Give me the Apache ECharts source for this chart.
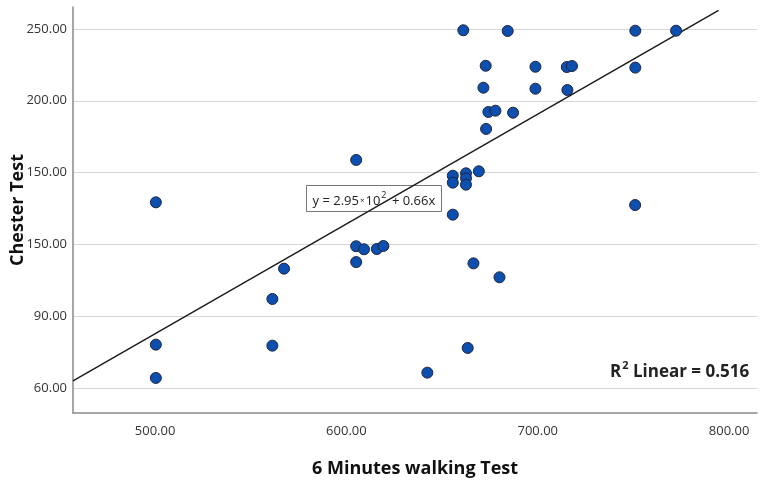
<!DOCTYPE html>
<html>
<head>
<meta charset="utf-8">
<script src="https://cdn.jsdelivr.net/npm/echarts@6/dist/echarts.min.js"></script>
<style>
  html, body { margin: 0; padding: 0; background: #fff; }
  #chart { width: 764px; height: 487px; }
</style>
</head>
<body>
<div id="chart"></div>
<script>
// 6 Minutes walking Test (x) vs Chester Test (y, plotted on the axis' own linear scale)
const walkX = [500.4, 500.4, 500.4, 561.3, 561.3, 567.4, 605.1, 605.1, 605.1, 609.2,
  615.9, 619.3, 642.3, 655.6, 655.6, 655.6, 662.5, 662.5, 662.5, 669.2,
  666.4, 680.0, 663.4, 661.1, 684.3, 672.8, 671.6, 674.2, 677.9, 687.1,
  673.0, 698.8, 698.8, 715.2, 717.9, 715.5, 751.0, 751.0, 772.3, 750.9];
const chesterY = [129.3, 30.2, 7.0, 62.0, 29.5, 83.1, 158.8, 98.7, 87.7, 96.6,
  96.8, 98.9, 10.7, 147.8, 143.0, 120.7, 149.5, 146.0, 141.6, 150.9,
  86.8, 77.1, 27.9, 249.1, 248.6, 224.4, 209.1, 192.2, 193.1, 191.7,
  180.4, 223.7, 208.4, 223.5, 224.2, 207.5, 248.8, 223.1, 248.8, 127.4];

// fit line end points
const fitX = [457.1, 794.5];
const fitY = [4.9, 263.0];

const xTicks = [500, 600, 700, 800];
const yTicks = [0, 50, 100, 150, 200, 250];
const yTickLabels = ["60.00", "90.00", "150.00", "150.00", "200.00", "250.00"];

const points = walkX.map((x, i) => [x, chesterY[i]]);
const fitLine = fitX.map((x, i) => [x, fitY[i]]);

const chart = echarts.init(document.getElementById("chart"));
const font = "'Open Sans', 'Noto Sans', sans-serif";

chart.setOption({
  animation: false,
  textStyle: { fontFamily: font },
  grid: { left: 73, right: 7, top: 7, bottom: 74, containLabel: false, outerBoundsMode: "none" },
  xAxis: {
    type: "value",
    min: 457.1,
    max: 814.6,
    name: "6 Minutes walking Test",
    nameLocation: "middle",
    nameGap: 47,
    nameMoveOverlap: false,
    nameTextStyle: { fontSize: 18, fontWeight: "bold", color: "#111", fontFamily: font },
    axisLine: { show: true, onZero: false, lineStyle: { color: "#8a8a8a", width: 1.5 } },
    axisTick: { show: false, customValues: xTicks },
    axisLabel: {
      customValues: xTicks,
      color: "#333",
      fontSize: 13,
      margin: 12,
      formatter: (v) => v.toFixed(2),
    },
    splitLine: { show: false },
  },
  yAxis: {
    type: "value",
    min: -17.4,
    max: 265.3,
    name: "Chester Test",
    nameLocation: "middle",
    nameGap: 46,
    nameMoveOverlap: false,
    nameTextStyle: { fontSize: 18, fontWeight: "bold", color: "#111", fontFamily: font },
    axisLine: { show: true, onZero: false, lineStyle: { color: "#8a8a8a", width: 1.5 } },
    axisTick: { show: false, customValues: yTicks },
    axisLabel: {
      customValues: yTicks,
      color: "#333",
      fontSize: 13,
      margin: 6,
      formatter: (v) => yTickLabels[yTicks.indexOf(v)] || "",
    },
    splitLine: { show: true, lineStyle: { color: "#d6d6d6", width: 1 } },
  },
  series: [
    {
      type: "line",
      data: fitLine,
      symbol: "none",
      lineStyle: { color: "#1a1a1a", width: 1.4 },
      z: 2,
    },
    {
      type: "scatter",
      data: points,
      symbolSize: 11,
      itemStyle: { color: "#0c4fae", borderColor: "#1c2340", borderWidth: 1, opacity: 1 },
      z: 3,
    },
  ],
  graphic: [
    {
      type: "group",
      left: 306,
      top: 185,
      z: 10,
      children: [
        {
          type: "rect",
          shape: { x: 0, y: 0, width: 135, height: 26 },
          style: { fill: "#fff", stroke: "#777", lineWidth: 1 },
        },
        {
          type: "text",
          x: 6,
          y: 4,
          style: {
            text: "{n|y = 2.95}{s|×}{n|10}{p|2}{n| + 0.66x}",
            rich: {
              n: { fontSize: 13, fill: "#222", fontFamily: font, verticalAlign: "bottom", lineHeight: 18 },
              s: { fontSize: 8, fill: "#222", fontFamily: font, padding: [0, 1, 3, 1], verticalAlign: "bottom", lineHeight: 18 },
              p: { fontSize: 9, fill: "#222", fontFamily: font, padding: [0, 2, 8, 1], verticalAlign: "bottom", lineHeight: 18 },
            },
          },
        },
      ],
    },
    {
      type: "text",
      left: 610,
      top: 360,
      z: 10,
      style: {
        text: "{r|R}{p|2}{r| Linear = 0.516}",
        rich: {
          r: { fontSize: 17, fontWeight: "bold", fill: "#222", fontFamily: font, verticalAlign: "bottom", lineHeight: 22 },
          p: { fontSize: 11, fontWeight: "bold", fill: "#222", fontFamily: font, padding: [0, 0, 10, 1], verticalAlign: "bottom", lineHeight: 22 },
        },
      },
    },
  ],
});
</script>
</body>
</html>
